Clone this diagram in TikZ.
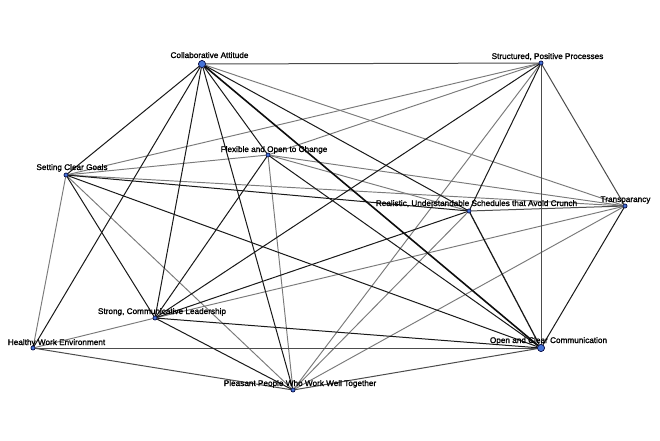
\documentclass[tikz,border=0pt]{standalone}
\usepackage{fontspec}
\setmainfont{Liberation Sans}
\newfontfamily\lblfont{Liberation Sans}[FakeBold=1.3]
\begin{document}
\begin{tikzpicture}[x=1pt,y=-1pt,
  vtx/.style={circle,draw=black!80!blue,line width=0.5pt,fill=nodeblue,inner sep=0pt,minimum size=4pt},
  bigvtx/.style={vtx,minimum size=7pt},
  lbl/.style={anchor=base,inner sep=0pt,font=\lblfont\fontsize{8.2}{9}\selectfont},
  blk/.style={draw=black!90,line width=1pt},
  thk/.style={draw=black!95,line width=1.6pt},
  drk/.style={draw=black!70,line width=1pt},
  gry/.style={draw=black!52,line width=0.95pt}]
\definecolor{nodeblue}{RGB}{70,115,215}
\useasboundingbox[fill=white] (0,0) rectangle (660,440);
% vertices
\node[bigvtx] (ca) at (202,64) {};
\node[vtx] (spp) at (541,63) {};
\node[vtx] (foc) at (268,155) {};
\node[vtx] (scg) at (66,175) {};
\node[vtx] (rus) at (469,211) {};
\node[vtx] (tr) at (625,206) {};
\node[vtx] (scl) at (155,318) {};
\node[vtx] (hwe) at (33,348) {};
\node[bigvtx] (occ) at (541,348) {};
\node[vtx] (ppw) at (293,390) {};
% edges
\path[gry] (ca) -- (tr);
\path[gry] (spp) -- (scg);
\path[gry] (spp) -- (foc);
\path[gry] (spp) -- (ppw);
\path[gry] (scg) -- (foc);
\path[gry] (scg) -- (hwe);
\path[gry] (scg) -- (ppw);
\path[gry] (scg) -- (tr);
\path[gry] (foc) -- (tr);
\path[gry] (foc) -- (rus);
\path[gry] (foc) -- (ppw);
\path[gry] (hwe) -- (scl);
\path[gry] (rus) -- (ppw);
\path[gry] (scl) -- (tr);
\path[gry] (ppw) -- (tr);
\path[drk] (ca) -- (spp);
\path[drk] (spp) -- (occ);
\path[drk] (spp) -- (tr);
\path[drk] (rus) -- (tr);
\path[drk] (hwe) -- (occ);
\path[drk] (hwe) -- (ppw);
\path[drk] (ppw) -- (occ);
\path[blk] (ca) -- (scg);
\path[blk] (ca) -- (scl);
\path[blk] (ca) -- (ppw);
\path[blk] (ca) -- (foc);
\path[blk] (ca) -- (rus);
\path[blk] (ca) -- (hwe);
\path[blk] (spp) -- (scl);
\path[blk] (spp) -- (rus);
\path[blk] (scg) -- (scl);
\path[blk] (scg) -- (rus);
\path[blk] (scg) -- (occ);
\path[blk] (foc) -- (scl);
\path[blk] (foc) -- (occ);
\path[blk,line width=1.25pt] (rus) -- (occ);
\path[blk] (rus) -- (scl);
\path[blk] (scl) -- (occ);
\path[blk] (scl) -- (ppw);
\path[blk] (tr) -- (occ);
\path[thk] (ca) -- (occ);
% labels
\node[lbl] (ca-l) at (209.5,58) {Collaborative Attitude};
\node[lbl] (spp-l) at (547.5,59) {Structured, Positive Processes};
\node[lbl] (foc-l) at (274,152) {Flexible and Open to Change};
\node[lbl] (scg-l) at (72,170) {Setting Clear Goals};
\node[lbl] (rus-l) at (476.5,206) {Realistic, Understandable Schedules that Avoid Crunch};
\node[lbl] (tr-l) at (625.5,202) {Transparancy};
\node[lbl] (scl-l) at (162,314) {Strong, Communicative Leadership};
\node[lbl] (hwe-l) at (56.5,345) {Healthy Work Environment};
\node[lbl] (ppw-l) at (300,386) {Pleasant People Who Work Well Together};
\node[lbl] (occ-l) at (548.5,343) {Open and Clear Communication};
% redraw vertices on top
\foreach \n/\p/\s in {ca/{(202,64)}/7pt,spp/{(541,63)}/4pt,foc/{(268,155)}/4pt,scg/{(66,175)}/4pt,rus/{(469,211)}/4pt,tr/{(625,206)}/4pt,scl/{(155,318)}/4pt,hwe/{(33,348)}/4pt,occ/{(541,348)}/7pt,ppw/{(293,390)}/4pt}
  \node[vtx,minimum size=\s] (\n-dot) at \p {};
\end{tikzpicture}
\end{document}
